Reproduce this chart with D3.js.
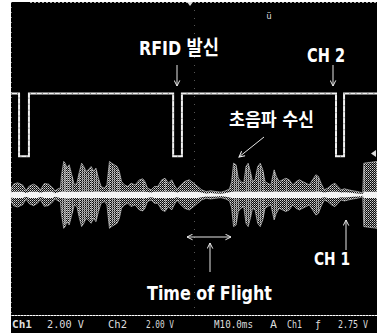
<!DOCTYPE html>
<html><head><meta charset="utf-8">
<script src="https://cdn.jsdelivr.net/npm/d3@7/dist/d3.min.js"></script>
<style>
html,body{margin:0;padding:0;background:#fff;}
svg{display:block;}
.lab{font-family:"DejaVu Sans Condensed","DejaVu Sans","Noto Sans CJK KR",sans-serif;font-weight:bold;fill:#fff;font-stretch:condensed;}
.st{font-family:"DejaVu Sans Mono","Liberation Mono",monospace;fill:#ddd;}
</style></head>
<body>
<script>
// ---------------- data ----------------
// time axis: M 10.0 ms / div, 10 divisions
const timeDomain = [0, 100];            // ms
const voltsPerDiv = 2.0;                 // both channels 2.00 V/div
const ch1Position = -0.93;               // divisions (ground marker of CH1)
const ch2Position = 0.06;                // divisions (ground marker of CH2)

// CH2: RFID trigger pulses (active low)
const ch2High = 3.2;                     // V
const ch2Low = 0.0;                      // V
const ch2PulseStart = [2.2, 44.3, 88.8]; // ms
const ch2PulseEnd   = [4.9, 46.7, 91.0]; // ms

// CH1: ultrasonic receiver envelope (half peak-to-peak, V)
const ch1Time = [0,0.7,1.8,3.2,4.1,5.0,6.2,7.3,8.0,9.1,10.2,11.4,12.0,12.8,13.5,13.8,14.4,14.8,15.3,15.9,16.6,17.3,18.0,18.7,19.3,19.9,20.5,21.1,21.9,22.6,23.2,23.9,24.6,25.5,26.2,26.9,27.5,28.2,29.0,29.6,30.2,31.0,31.9,32.8,33.9,35.1,36.0,36.6,37.3,38.3,39.2,40.1,41.2,42.1,43.0,43.9,44.6,45.4,46.0,47.4,48.7,49.9,51.0,52.1,53.3,54.6,56.0,57.4,58.7,59.7,60.3,60.8,61.5,62.1,62.8,63.6,64.2,64.8,65.4,66.0,66.7,67.4,68.1,68.8,69.4,70.1,71.0,71.9,72.5,73.3,74.2,75.1,76.0,77.0,77.9,78.8,79.7,80.6,81.5,82.4,83.3,84.0,84.7,85.6,86.5,87.6,88.5,89.3,90.2,91.1,92.2,93.4,94.7,96.1,96.4,100];
const ch1Amp  = [0.30,0.55,0.62,0.50,0.22,0.45,0.55,0.42,0.24,0.58,0.55,0.36,0.20,0.30,0.36,1.00,1.71,1.62,1.37,1.54,1.03,0.51,0.60,1.20,1.62,1.45,1.20,1.28,1.45,1.20,1.37,0.85,0.43,0.34,0.51,1.71,1.62,1.54,1.45,1.20,0.68,0.51,0.43,0.60,0.51,0.77,0.82,0.68,0.34,0.26,0.43,0.43,0.77,0.85,0.60,0.77,0.51,0.26,0.43,0.68,0.77,0.60,0.43,0.26,0.17,0.21,0.17,0.14,0.21,0.31,0.68,1.62,1.54,0.85,0.68,0.60,1.45,1.62,1.20,0.68,0.77,1.45,1.62,1.28,0.68,0.60,0.51,1.28,0.94,0.68,0.77,0.85,0.77,0.51,0.68,0.77,0.68,0.60,0.51,0.77,1.03,0.94,0.60,0.26,0.34,0.51,0.60,0.43,0.26,0.31,0.26,0.21,0.17,0.10,1.62,1.71];

// labels
const annotations = [
  {text:"RFID 발신", x:139, y:55, w:80, size:20},
  {text:"CH 2", x:307, y:62, w:38, size:19},
  {text:"초음파 수신", x:229, y:126, w:85, size:18},
  {text:"CH 1", x:314, y:265, w:36, size:18},
  {text:"Time of Flight", x:147, y:300, w:125, size:20}
];
const statusItems = [
  {text:"Ch1", x:12, w:20, c:"#fff", b:true},
  {text:"2.00 V", x:47, w:37, c:"#ddd"},
  {text:"Ch2", x:108, w:19, c:"#999"},
  {text:"2.00 V", x:146, w:28, c:"#999"},
  {text:"M10.0ms", x:214, w:39, c:"#ddd"},
  {text:"A", x:270, w:7, c:"#ddd"},
  {text:"Ch1", x:287, w:15, c:"#ccc"},
  {text:"\u0192", x:315, w:6, c:"#ddd"},
  {text:"2.75 V", x:338, w:30, c:"#ddd"}
];

// ---------------- drawing ----------------
const W = 377, H = 333;
const svg = d3.select("body").append("svg").attr("width", W).attr("height", H);
const defs = svg.append("defs");
const pat = defs.append("pattern").attr("id","dither").attr("patternUnits","userSpaceOnUse")
  .attr("width",2).attr("height",2);
pat.append("rect").attr("width",2).attr("height",2).attr("fill","#0a0a0a");
pat.append("rect").attr("x",0).attr("y",0).attr("width",1).attr("height",1).attr("fill","#d8d8d8");
pat.append("rect").attr("x",1).attr("y",1).attr("width",1).attr("height",1).attr("fill","#8a8a8a");

const mk = defs.append("marker").attr("id","ah").attr("viewBox","0 0 10 10")
  .attr("refX",9).attr("refY",5).attr("markerWidth",7).attr("markerHeight",7)
  .attr("orient","auto-start-reverse").attr("markerUnits","userSpaceOnUse");
mk.append("path").attr("d","M1,1 L9,5 L1,9").attr("fill","none").attr("stroke","#eee").attr("stroke-width",1.4);

// screen
svg.append("rect").attr("x",0).attr("y",0).attr("width",W).attr("height",H).attr("fill","#fff");
svg.append("rect").attr("x",11).attr("y",2).attr("width",W-11).attr("height",313).attr("fill","#000");
svg.append("rect").attr("x",0).attr("y",316).attr("width",W).attr("height",17).attr("fill","#000");
svg.append("rect").attr("x",0).attr("y",316).attr("width",11).attr("height",17).attr("fill","#fff");

const x = d3.scaleLinear().domain(timeDomain).range([11, 377]);
const yDiv = d3.scaleLinear().domain([-4, 4]).range([315, 2]);
const yV = (pos) => (v) => yDiv(pos + v / voltsPerDiv);
const y1 = yV(ch1Position), y2 = yV(ch2Position);

// frame dotted edges
svg.append("line").attr("x1",30).attr("x2",377).attr("y1",2.5).attr("y2",2.5)
  .attr("stroke","#aaa").attr("stroke-dasharray","2,2");
svg.append("line").attr("x1",11).attr("x2",377).attr("y1",315.5).attr("y2",315.5)
  .attr("stroke","#999").attr("stroke-dasharray","1,2");
svg.append("line").attr("x1",11.5).attr("x2",11.5).attr("y1",2).attr("y2",315)
  .attr("stroke","#777").attr("stroke-dasharray","1,4");

// centre graticule dots
const cx = x((timeDomain[0]+timeDomain[1])/2);
const minor = d3.range(-4, 4.01, 0.2);
svg.append("g").selectAll("rect").data(minor).join("rect")
  .attr("x", cx).attr("y", d => Math.round(yDiv(d))).attr("width",1).attr("height",1).attr("fill","#555");

// CH2 trace
const ch2Pts = [[timeDomain[0], ch2High]];
ch2PulseStart.forEach((s,i) => { ch2Pts.push([s, ch2Low]); ch2Pts.push([ch2PulseEnd[i], ch2High]); });
ch2Pts.push([timeDomain[1], ch2High]);
const ch2Line = d3.line().x(d => x(d[0])).y(d => y2(d[1])).curve(d3.curveStepAfter);
svg.append("path").attr("d", ch2Line(ch2Pts)).attr("fill","none").attr("stroke","#f2f2f2")
  .attr("stroke-width",2);
svg.append("path").attr("d", ch2Line(ch2Pts)).attr("fill","none").attr("stroke","#777")
  .attr("stroke-width",1).attr("stroke-dasharray","1,5");

// CH1 trace (envelope of the ultrasonic burst)
const env = ch1Time.map((t,i) => [t, ch1Amp[i]]);
const area = d3.area().x(d => x(d[0])).y0(d => y1(-d[1])).y1(d => y1(d[1]));
svg.append("path").attr("d", area(env)).attr("fill","url(#dither)");
svg.append("g").selectAll("line").data(env.filter(d => d[1] > 0.8)).join("line")
  .attr("x1", d => Math.round(x(d[0]))+0.5).attr("x2", d => Math.round(x(d[0]))+0.5)
  .attr("y1", d => y1(d[1]*0.9)).attr("y2", d => y1(-d[1]*0.9))
  .attr("stroke","#bbb").attr("stroke-width",1).attr("opacity",0.6);
svg.append("path").attr("d", area(env)).attr("fill","none").attr("stroke","#e0e0e0").attr("stroke-width",0.8).attr("opacity",0.75);
const core = d3.area().x(d => x(d[0])).y0(d => y1(-Math.min(d[1]*0.45, 0.16))).y1(d => y1(Math.min(d[1]*0.45, 0.16)));
svg.append("path").attr("d", core(env)).attr("fill","#f4f4f4");

// markers
svg.append("path").attr("d","M187,2 L193,2 L190,6 Z").attr("fill","#ddd");
svg.append("text").attr("x",269).attr("y",19).attr("text-anchor","middle").attr("class","st")
  .attr("font-size",9).attr("fill","#ccc").text("\u00fc");
svg.append("path").attr("d","M376,150 L371,153.5 L376,157 Z").attr("fill","#ddd");

// annotations
annotations.forEach(a => {
  svg.append("text").attr("class","lab").attr("x",a.x).attr("y",a.y)
    .attr("font-size",a.size).attr("textLength",a.w).attr("lengthAdjust","spacingAndGlyphs").text(a.text);
});

// arrows
const arrows = [
  {x1:177,y1:65,x2:177,y2:86,both:false},
  {x1:333,y1:65,x2:333,y2:86,both:false},
  {x1:264,y1:137,x2:239,y2:157,both:false},
  {x1:346,y1:250,x2:346,y2:220,both:false},
  {x1:210,y1:272,x2:210,y2:243,both:false},
  {x1:187,y1:237,x2:231,y2:237,both:true}
];
arrows.forEach(a => {
  const l = svg.append("line").attr("x1",a.x1).attr("y1",a.y1).attr("x2",a.x2).attr("y2",a.y2)
    .attr("stroke","#e6e6e6").attr("stroke-width",1).attr("marker-end","url(#ah)");
  if (a.both) l.attr("marker-start","url(#ah)");
});

// status line
statusItems.forEach(s => {
  svg.append("text").attr("class","st").attr("x",s.x).attr("y",328).attr("font-size",11)
    .attr("font-weight", s.b ? "bold" : "normal").attr("fill",s.c)
    .attr("textLength",s.w).attr("lengthAdjust","spacingAndGlyphs").text(s.text);
});
</script>
</body></html>
